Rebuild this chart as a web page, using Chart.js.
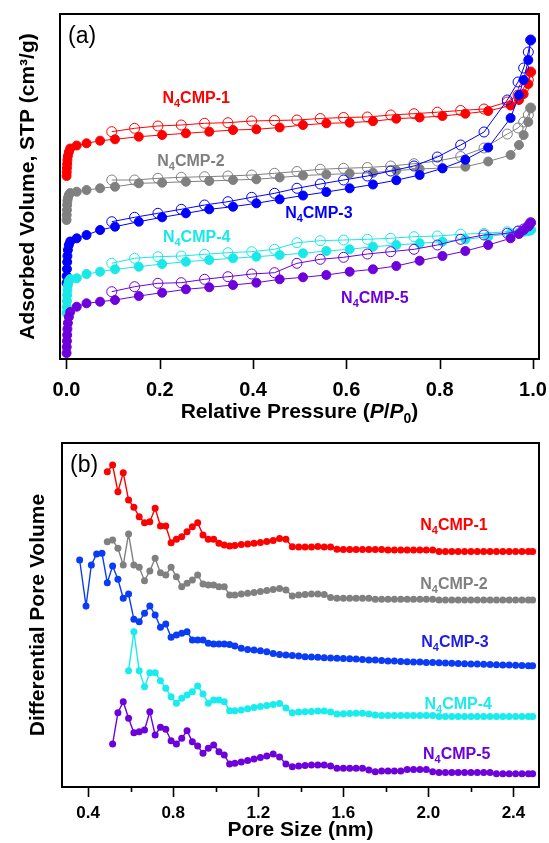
<!DOCTYPE html>
<html>
<head>
<meta charset="utf-8">
<script src="https://cdn.jsdelivr.net/npm/chart.js@4.4.1/dist/chart.umd.min.js"></script>
<style>
  html, body { margin: 0; padding: 0; background: #fff; }
  #wrap { position: relative; width: 549px; height: 843px; overflow: hidden; }
  #iso { position: absolute; left: 0; top: 0; }
  #psd { position: absolute; left: 0; top: 430px; }
</style>
</head>
<body>
<div id="wrap">
  <canvas id="iso" width="549" height="432"></canvas>
  <canvas id="psd" width="549" height="413"></canvas>
</div>
<script>
// ---- (a) N2 isotherms, adsorbed volume in arbitrary (offset) units ----
const P_ADS = [0.0002, 0.0005, 0.001, 0.0015, 0.002, 0.003, 0.005, 0.008, 0.022, 0.043, 0.072, 0.104,
  0.155, 0.205, 0.256, 0.306, 0.357, 0.407, 0.457, 0.507, 0.557, 0.607, 0.657, 0.707, 0.757, 0.806,
  0.855, 0.904, 0.952, 0.97, 0.98, 0.99, 0.995];
const P_DES = [0.995, 0.99, 0.98, 0.968, 0.945, 0.895, 0.845, 0.795, 0.745, 0.695, 0.645, 0.594,
  0.544, 0.494, 0.446, 0.397, 0.346, 0.296, 0.246, 0.196, 0.146, 0.097];

const ADS_1 = [187, 191, 195, 199, 203, 207, 211, 214.5, 217.5, 219.7, 222.3, 223.7, 226.3, 228, 229.7, 231.3,
  233, 233.7, 235.5, 238, 239.7, 240.3, 241.8, 244.3, 245.5, 247, 249.3, 252, 257.5, 263, 269, 279, 291];
const DES_1 = [291, 283, 275, 268, 261, 254, 252.5, 250.8, 249.3, 248, 246, 245.5, 244.5, 243, 242.5, 242,
  240.3, 239.7, 238, 237, 234.7, 231.3];
const ADS_2 = [143, 148, 153, 158, 162, 165, 168, 170, 171.3, 173, 174.7, 176.3, 179.7, 180.3, 181.3, 182,
  183, 183.7, 185.5, 187.5, 188.5, 189.5, 190.3, 192.5, 194, 195, 196.3, 201.5, 208, 218, 228, 241, 255];
const DES_2 = [255, 248, 241, 235, 229, 215, 206.5, 202, 199.3, 197, 195.5, 194.7, 193.7, 191.5, 189.7, 188,
  187, 186.3, 185.7, 184.7, 183, 183];
const ADS_3 = [80, 87, 94, 101, 107, 113, 118, 121.5, 124.7, 128, 133, 136.3, 141.3, 145.7, 149.7, 153.7,
  156.3, 159.7, 163.7, 167.5, 171, 174.7, 178.5, 182.8, 188, 194.6, 203.3, 215.5, 245, 268, 283, 303, 323];
const DES_3 = [323, 311, 295, 281, 263, 231, 218, 206, 197, 192, 187, 183, 179, 174.7, 169.7, 165.7,
  161.3, 158, 153.7, 149.7, 145.7, 141.3];
const ADS_4 = [50, 56, 62, 68, 73, 78, 82, 84, 84.7, 89, 91.3, 93.7, 96.3, 99, 101.3, 103, 104.7, 106.3,
  108, 109.7, 112, 113.7, 116.3, 118, 119.7, 121.3, 123.7, 126.3, 129.7, 130.5, 131.3, 132.2, 133];
const DES_4 = [133, 132.5, 132, 131.7, 131.3, 129.7, 128.7, 127, 126.3, 124.7, 123.7, 123, 122.3, 120.3,
  113.7, 111.3, 110.3, 108.7, 107, 106.3, 104.7, 99.7];
const ADS_5 = [10, 16, 22, 28, 34, 40, 46, 51, 56.3, 59.7, 61.3, 63, 67, 70.3, 73.7, 75.7, 78, 80.3, 83.7,
  85.7, 88, 91.3, 93.7, 97, 102.3, 107, 112, 118, 124.7, 129, 133, 137, 140.3];
const DES_5 = [140.3, 137, 134, 132, 129.7, 128, 123.7, 118, 113.7, 111.3, 109, 105.7, 103.7, 99.7, 90.3,
  89, 86.3, 83.7, 80.3, 79.7, 76.3, 71.3];

// ---- (b) pore size distribution, differential pore volume in arbitrary (offset) units ----
const PORE = [0.36, 0.39, 0.415, 0.44, 0.465, 0.49, 0.515, 0.54, 0.565, 0.59, 0.615, 0.64, 0.665, 0.69,
  0.715, 0.74, 0.765, 0.79, 0.815, 0.84, 0.865, 0.89, 0.915, 0.94, 0.965, 0.99, 1.015, 1.04, 1.065, 1.09,
  1.12, 1.15, 1.18, 1.21, 1.24, 1.27, 1.30, 1.33, 1.36, 1.39, 1.42, 1.45, 1.48, 1.51, 1.54, 1.57, 1.60,
  1.63, 1.66, 1.69, 1.72, 1.75, 1.78, 1.81, 1.84, 1.87, 1.90, 1.93, 1.96, 1.99, 2.02, 2.05, 2.08, 2.11,
  2.14, 2.17, 2.20, 2.23, 2.26, 2.29, 2.32, 2.35, 2.38, 2.41, 2.44, 2.47, 2.49];

const PSD_1 = [null, null, null, null, null,
  315.3, 322, 295.3, 314.3, 287, 279.7, 270.3, 264.3, 265.3, 278.7, 261, 261, 244.3, 247.7, 250.3, 255.3,
  260.3, 264.3, 252, 247.7, 247.7, 243.7, 242, 241, 241.5,
  242.5, 243, 243.7, 244.5, 245.5, 246.5, 248.5, 247.7, 240.3,
  240, 240, 240, 240.5, 240, 240,
  237.7, 237.5, 237.5, 237.5, 237.5, 237.5, 237.5, 237.5,
  237, 237, 237, 237, 237, 237, 237, 237,
  235.5, 235.5, 235.5, 235.5, 235.5, 235.5, 235.5, 235.5, 235.5, 235.5, 235.5, 235.5, 235.5, 235.5, 235.5, 235.5];
const PSD_2 = [null, null, null, null, null,
  245.3, 247, 238.7, 222, 253, 222, 219.7, 206.3, 216, 228.7, 214.3, 212, 219.7, 210.3, 200.3, 203.7,
  207, 212, 203, 202, 202, 200.3, 200.3, 192, 192,
  193, 193.7, 194.5, 195.5, 196.5, 197.5, 198.5, 197, 191,
  192, 192.5, 193, 193, 192.5, 189.5,
  188.7, 188.7, 188.7, 188.7, 188.7, 188.7,
  187.7, 187.7, 187.7, 187.7, 187.7, 187.7, 187.7, 187.7, 187.7, 187.7,
  187, 187, 187, 187, 187, 187, 187, 187, 187, 187, 187, 187, 187, 187, 187, 187];
const PSD_3 = [227, 181, 222, 233, 233.7, 204.3, 221, 207.7, 188.7, 193, 167.7, 165.3, 173.7, 181, 172,
  159.7, 163, 149.7, 152, 153.7, 155.3, 147, 147, 147, 143.7, 143, 143, 143, 142.5, 141,
  138.7, 137.5, 137, 136.3, 135.3, 133.5, 132.5, 132, 131.5, 131, 130.3, 130, 129.7, 129.3, 129, 128.7,
  128.5, 128.2, 128, 127.5, 127, 127, 126.5, 126, 126, 125.5, 125.3, 125, 125, 124.5, 124.5, 124.3, 124,
  123.7, 123.5, 123.3, 123, 123, 122.7, 122.5, 122.3, 122, 122, 121.7, 121.5, 121.3, 121.3];
const PSD_4 = [null, null, null, null, null, null, null, null, null,
  116.3, 155.3, 116.3, 100.3, 114.3, 114.3, 106.3, 98.7, 90.3, 83.7, 88.7, 92, 95.3, 101, 93, 83.7, 87,
  87, 85.3, 76.3, 76.3,
  77, 78.3, 79.5, 80.5, 81.5, 82.5, 83.5, 79, 74.3,
  75, 75.3, 75.5, 76, 76, 75,
  73, 73.3, 73.5, 73.7, 73.7, 73, 72,
  71.5, 71.5, 71.5, 71.5, 71.5, 71.5, 71.5, 71.5, 71.5,
  70.5, 70.5, 70.5, 70.5, 70.5, 70.5, 70.5, 70.5, 70.5, 70.5, 70.5, 70.5, 70.5, 70.5, 70.5, 70.5];
const PSD_5 = [null, null, null, null, null, null,
  43, 74.3, 85.3, 68.7, 54.3, 55.3, 57, 75.3, 52, 59.7, 57.7, 46.3, 43, 48.7, 56.3, 45.3, 41, 33.7, 38.7,
  42, 35.3, 32, 23, 23.7,
  25, 26.5, 28, 29.5, 31, 33, 30, 23, 20.3,
  21, 21.5, 22, 22, 22, 21,
  18.7, 18.7, 18.7, 18.7, 18.7,
  17, 15.3, 16, 16, 16, 16, 17.5, 17.5, 17.5, 17.5, 15.3,
  14.5, 14.5, 14.5, 14.5, 14.5, 14.5, 14.5, 14.5, 14.5,
  13.3, 13.3, 13.3, 13.3, 13.3, 13.3, 13.3];

const SAMPLES = ['1', '2', '3', '4', '5'];
const ISO_COLORS = ['#FF0000', '#808080', '#0000FF', '#19E8E8', '#6E00DC'];
const PSD_COLORS = ['#FF0000', '#808080', '#0A3CF5', '#19ECEC', '#6E00DC'];
const PSD_LABEL_COLORS = ['#FF0000', '#808080', '#1E1EE6', '#19ECEC', '#6E00DC'];

// label anchors (data units of each panel)
const ISO_LABEL_X = [0.278, 0.267, 0.541, 0.279, 0.661];
const ISO_LABEL_Y = [266, 203, 151, 127, 66];
const PSD_LABEL_X = [2.12, 2.12, 2.125, 2.14, 2.133];
const PSD_LABEL_Y = [263, 204, 146, 84, 34];

const FONT = '"Liberation Sans", Arial, Helvetica, sans-serif';
Chart.defaults.font.family = FONT;
Chart.defaults.color = '#000';

function pairs(xs, ys) {
  return xs.map((x, i) => ({ x: x, y: ys[i] })).filter(p => p.y !== null);
}

function drawName(ctx, cx, cy, num, color) {
  const big = 'bold 16px ' + FONT, small = 'bold 11px ' + FONT;
  ctx.font = big;
  const wN = ctx.measureText('N').width;
  const wRest = ctx.measureText('CMP-' + num).width;
  ctx.font = small;
  const wSub = ctx.measureText('4').width;
  const x0 = cx - (wN + wSub + wRest) / 2;
  const base = cy + 6;
  ctx.fillStyle = color;
  ctx.textAlign = 'left';
  ctx.textBaseline = 'alphabetic';
  ctx.font = big;
  ctx.fillText('N', x0, base);
  ctx.font = small;
  ctx.fillText('4', x0 + wN, base + 4);
  ctx.font = big;
  ctx.fillText('CMP-' + num, x0 + wN + wSub, base);
}

function drawPressureTitle(ctx, cx, base) {
  const parts = [
    { t: 'Relative Pressure (', f: 'bold 21px ' + FONT, dy: 0 },
    { t: 'P', f: 'italic bold 21px ' + FONT, dy: 0 },
    { t: '/', f: 'bold 21px ' + FONT, dy: 0 },
    { t: 'P', f: 'italic bold 21px ' + FONT, dy: 0 },
    { t: '0', f: 'bold 14px ' + FONT, dy: 5 },
    { t: ')', f: 'bold 21px ' + FONT, dy: 0 }
  ];
  let total = 0;
  parts.forEach(p => { ctx.font = p.f; p.w = ctx.measureText(p.t).width; total += p.w; });
  let x = cx - total / 2;
  ctx.fillStyle = '#000';
  ctx.textAlign = 'left';
  ctx.textBaseline = 'alphabetic';
  parts.forEach(p => { ctx.font = p.f; ctx.fillText(p.t, x, base + p.dy); x += p.w; });
}

// frame, x tick marks (long under labels, short otherwise), panel letter, sample names
const panelDecor = {
  id: 'panelDecor',
  afterDraw(chart, args, opts) {
    const { ctx, chartArea: a, scales } = chart;
    ctx.save();
    ctx.strokeStyle = '#000';
    ctx.lineWidth = 1.6;
    scales.x.ticks.forEach(t => {
      const px = Math.round(scales.x.getPixelForValue(t.value)) + 0.5;
      const len = t.label ? 10 : 5;
      ctx.beginPath();
      ctx.moveTo(px, a.bottom);
      ctx.lineTo(px, a.bottom + len);
      ctx.stroke();
    });
    ctx.lineWidth = 2;
    ctx.strokeRect(a.left, a.top, a.right - a.left, a.bottom - a.top);
    ctx.fillStyle = '#000';
    ctx.font = '23px ' + FONT;
    ctx.textAlign = 'left';
    ctx.textBaseline = 'alphabetic';
    ctx.fillText(opts.letter, a.left + 8, a.top + 29);
    SAMPLES.forEach((s, i) => {
      drawName(ctx, scales.x.getPixelForValue(opts.labelX[i]), scales.y.getPixelForValue(opts.labelY[i]),
        s, opts.labelColors[i]);
    });
    if (opts.pressureTitle) drawPressureTitle(ctx, (a.left + a.right) / 2, 418);
    ctx.restore();
  }
};

// ---------- panel (a) ----------
const adsList = [ADS_1, ADS_2, ADS_3, ADS_4, ADS_5];
const desList = [DES_1, DES_2, DES_3, DES_4, DES_5];
const isoSets = [];
SAMPLES.forEach((s, i) => {
  isoSets.push({
    label: 'N4CMP-' + s + ' adsorption',
    data: pairs(P_ADS, adsList[i]),
    showLine: true, borderColor: ISO_COLORS[i], borderWidth: 1,
    pointRadius: 4.5, pointBorderWidth: 1,
    pointBackgroundColor: ISO_COLORS[i], pointBorderColor: ISO_COLORS[i],
    order: 20 - 2 * i
  });
  isoSets.push({
    label: 'N4CMP-' + s + ' desorption',
    data: pairs(P_DES, desList[i]),
    showLine: true, borderColor: ISO_COLORS[i], borderWidth: 1,
    pointRadius: 5, pointBorderWidth: 1,
    pointBackgroundColor: 'rgba(255,255,255,0)', pointBorderColor: ISO_COLORS[i],
    order: 19 - 2 * i
  });
});

new Chart(document.getElementById('iso'), {
  type: 'scatter',
  data: { datasets: isoSets },
  options: {
    responsive: false,
    animation: false,
    events: [],
    layout: { padding: { top: 14, right: 10, left: 0, bottom: 0 } },
    plugins: {
      legend: { display: false },
      tooltip: { enabled: false },
      panelDecor: { letter: '(a)', labelX: ISO_LABEL_X, labelY: ISO_LABEL_Y, labelColors: ISO_COLORS, pressureTitle: true }
    },
    scales: {
      x: {
        type: 'linear', min: -0.0139, max: 1.0129,
        ticks: {
          stepSize: 0.2, includeBounds: false, autoSkip: false, maxRotation: 0, padding: 0,
          font: { size: 20, weight: 'bold', lineHeight: 3.1 }, color: '#000',
          callback: v => v.toFixed(1)
        },
        grid: { display: false, drawTicks: false },
        border: { display: false },
        title: { display: false },
        afterFit: s => { s.height = 73; }
      },
      y: {
        type: 'linear', min: 4, max: 349,
        ticks: { display: false },
        grid: { display: false, drawTicks: false },
        border: { display: false },
        title: {
          display: true, text: 'Adsorbed Volume, STP (cm³/g)', color: '#000',
          font: { size: 21, weight: 'bold' }, padding: { top: 16, bottom: 0 }
        },
        afterFit: s => { s.width = 60; }
      }
    }
  },
  plugins: [panelDecor]
});

// ---------- panel (b) ----------
const psdList = [PSD_1, PSD_2, PSD_3, PSD_4, PSD_5];
const psdSets = SAMPLES.map((s, i) => ({
  label: 'N4CMP-' + s,
  data: pairs(PORE, psdList[i]),
  showLine: true, borderColor: PSD_COLORS[i], borderWidth: 1.4,
  pointRadius: 3.5, pointBorderWidth: 0,
  pointBackgroundColor: PSD_COLORS[i],
  order: 10 - i
}));

new Chart(document.getElementById('psd'), {
  type: 'scatter',
  data: { datasets: psdSets },
  options: {
    responsive: false,
    animation: false,
    events: [],
    layout: { padding: { top: 13, right: 10, left: 0, bottom: 0 } },
    plugins: {
      legend: { display: false },
      tooltip: { enabled: false },
      panelDecor: { letter: '(b)', labelX: PSD_LABEL_X, labelY: PSD_LABEL_Y, labelColors: PSD_LABEL_COLORS, pressureTitle: false }
    },
    scales: {
      x: {
        type: 'linear', min: 0.277, max: 2.52,
        ticks: {
          stepSize: 0.2, includeBounds: false, autoSkip: false, maxRotation: 0, padding: 0,
          font: { size: 17, weight: 'bold', lineHeight: 3.06 }, color: '#000',
          callback: v => (Math.round(v * 10) % 4 === 0 ? v.toFixed(1) : '')
        },
        grid: { display: false, drawTicks: false },
        border: { display: false },
        title: {
          display: true, text: 'Pore Size (nm)', color: '#000',
          font: { size: 21, weight: 'bold' }, padding: { top: 0, bottom: 0 }
        },
        afterFit: s => { s.height = 56; }
      },
      y: {
        type: 'linear', min: 0, max: 344,
        ticks: { display: false },
        grid: { display: false, drawTicks: false },
        border: { display: false },
        title: {
          display: true, text: 'Differential Pore Volume', color: '#000',
          font: { size: 21, weight: 'bold' }, padding: { top: 26, bottom: 0 }
        },
        afterFit: s => { s.width = 62; }
      }
    }
  },
  plugins: [panelDecor]
});
</script>
</body>
</html>
